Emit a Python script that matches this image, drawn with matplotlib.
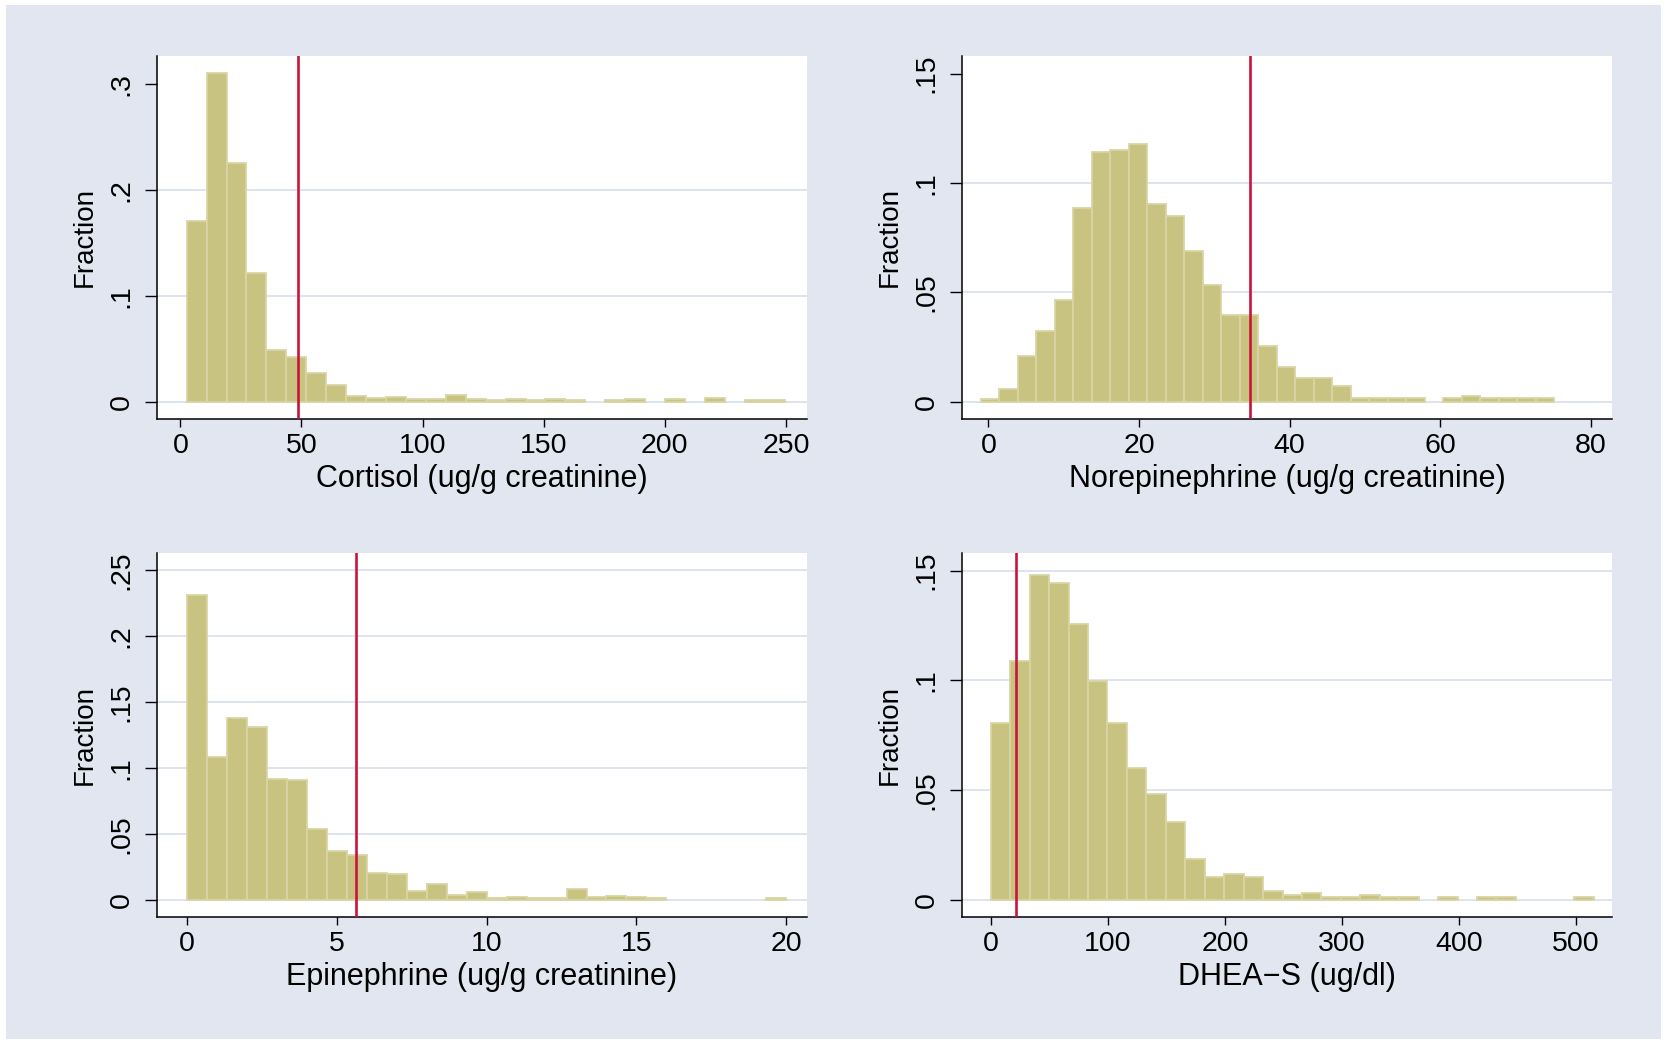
import numpy as np
import matplotlib
matplotlib.use("Agg")
import matplotlib.pyplot as plt
from matplotlib.patches import Rectangle

plt.rcParams['font.family'] = ['Liberation Sans', 'DejaVu Sans']

# ---------------- data ----------------
cort_start, cort_width = 2.6, 8.23
cort_frac = [0.171, 0.311, 0.2255, 0.1217, 0.0487, 0.0428, 0.0274, 0.016, 0.006, 0.0035,
             0.0045, 0.0027, 0.0027, 0.0062, 0.0027, 0.0018, 0.0027, 0.0018, 0.0027, 0.0018,
             0.0, 0.0018, 0.0027, 0.0, 0.0027, 0.0, 0.0038, 0.0, 0.0018, 0.0018]
cort_line = 48.5

nor_start, nor_width = -0.99, 2.455
nor_frac = [0.0013, 0.0059, 0.0208, 0.0325, 0.0464, 0.0884, 0.1141, 0.1152, 0.1179, 0.0906,
            0.0847, 0.0688, 0.0532, 0.0395, 0.0395, 0.0257, 0.0158, 0.0108, 0.0108, 0.0071,
            0.002, 0.002, 0.002, 0.002, 0.0, 0.0016, 0.0025, 0.0016, 0.0016, 0.0016, 0.0016]
nor_line = 34.8

epi_start, epi_width = 0.0, 0.6667
epi_frac = [0.2311, 0.1084, 0.1378, 0.1309, 0.0918, 0.091, 0.0536, 0.0369, 0.0341, 0.0202,
            0.0200, 0.0065, 0.0122, 0.0038, 0.0062, 0.0013, 0.0024, 0.0013, 0.0013, 0.0082,
            0.0024, 0.0034, 0.0024, 0.0014, 0.0, 0.0, 0.0, 0.0, 0.0, 0.0014]
epi_line = 5.64

dhea_start, dhea_width = 0.0, 16.61
dhea_frac = [0.0805, 0.1089, 0.1482, 0.1442, 0.1256, 0.0999, 0.0805, 0.0601, 0.0482, 0.0355,
             0.0188, 0.0107, 0.0119, 0.0107, 0.004, 0.0022, 0.0031, 0.0013, 0.0013, 0.0022,
             0.0013, 0.0013, 0.0, 0.0013, 0.0, 0.0013, 0.0013, 0.0, 0.0, 0.0, 0.0013]
dhea_line = 21.7

cort_xticks = [0, 50, 100, 150, 200, 250]
nor_xticks = [0, 20, 40, 60, 80]
epi_xticks = [0, 5, 10, 15, 20]
dhea_xticks = [0, 100, 200, 300, 400, 500]

cort_yticks = [0, 0.1, 0.2, 0.3]
cort_ylabels = ['0', '.1', '.2', '.3']
small_yticks = [0, 0.05, 0.1, 0.15]
small_ylabels = ['0', '.05', '.1', '.15']
epi_yticks = [0, 0.05, 0.1, 0.15, 0.2, 0.25]
epi_ylabels = ['0', '.05', '.1', '.15', '.2', '.25']

xlabels = ['Cortisol (ug/g creatinine)', 'Norepinephrine (ug/g creatinine)',
           'Epinephrine (ug/g creatinine)', 'DHEA\u2212S (ug/dl)']

# ---------------- style ----------------
BG = '#E1E6F0'
GRID = '#DDE3EF'
BAR = '#C9C381'
BAR_EDGE = '#D9D5A5'
RED = '#C8143C'

fig = plt.figure(figsize=(16.67, 10.43), dpi=100)
fig.patch.set_facecolor('white')
fig.patches.append(Rectangle((6 / 1667, 1 - 1039 / 1043), (1661 - 6) / 1667, (1039 - 5) / 1043,
                             transform=fig.transFigure, facecolor=BG, edgecolor='none', zorder=-10))

panels = [
    dict(pos=[0.0941, 0.5983, 0.3900, 0.3480], start=cort_start, width=cort_width, frac=cort_frac,
         line=cort_line, xticks=cort_xticks, yticks=cort_yticks, ylabels=cort_ylabels,
         xlim=(-9.7, 258.7), ylim=(-0.016, 0.3267), xlabel=xlabels[0], topgrid=False),
    dict(pos=[0.5771, 0.5983, 0.3899, 0.3480], start=nor_start, width=nor_width, frac=nor_frac,
         line=nor_line, xticks=nor_xticks, yticks=small_yticks, ylabels=small_ylabels,
         xlim=(-3.5, 82.8), ylim=(-0.0078, 0.158), xlabel=xlabels[1], topgrid=False),
    dict(pos=[0.0941, 0.1208, 0.3900, 0.3490], start=epi_start, width=epi_width, frac=epi_frac,
         line=epi_line, xticks=epi_xticks, yticks=epi_yticks, ylabels=epi_ylabels,
         xlim=(-1.0, 20.69), ylim=(-0.0129, 0.2632), xlabel=xlabels[2], topgrid=True),
    dict(pos=[0.5771, 0.1208, 0.3899, 0.3490], start=dhea_start, width=dhea_width, frac=dhea_frac,
         line=dhea_line, xticks=dhea_xticks, yticks=small_yticks, ylabels=small_ylabels,
         xlim=(-24.6, 530.6), ylim=(-0.0077, 0.158), xlabel=xlabels[3], topgrid=True),
]

for p in panels:
    ax = fig.add_axes(p['pos'])
    ax.set_facecolor('white')
    frac = np.array(p['frac'])
    left = p['start'] + p['width'] * np.arange(len(frac))
    keep = frac > 0
    ax.bar(left[keep], frac[keep], width=p['width'], align='edge', color=BAR,
           edgecolor=BAR_EDGE, linewidth=1.3, zorder=2)
    gy = p['yticks'] if p['topgrid'] else p['yticks'][:-1]
    for g in gy:
        ax.axhline(g, color=GRID, linewidth=1.4, zorder=1)
    ax.axvline(p['line'], color=RED, linewidth=1.9, zorder=3)
    ax.set_xlim(*p['xlim'])
    ax.set_ylim(*p['ylim'])
    ax.set_xticks(p['xticks'])
    ax.set_xticklabels([str(t) for t in p['xticks']])
    ax.set_yticks(p['yticks'])
    ax.set_yticklabels(p['ylabels'], rotation=90, va='center')
    for s in ['top', 'right']:
        ax.spines[s].set_visible(False)
    for s in ['left', 'bottom']:
        ax.spines[s].set_color('black')
        ax.spines[s].set_linewidth(1.1)
    ax.tick_params(axis='y', direction='out', length=8.5, width=1.0, pad=7.5, labelsize=20.5,
                   colors='black')
    ax.tick_params(axis='x', direction='out', length=5.5, width=1.0, pad=4.5, labelsize=20.5,
                   colors='black')
    ax.set_xlabel(p['xlabel'], fontsize=22, labelpad=4)
    ax.set_ylabel('Fraction', fontsize=20, labelpad=8)

fig.savefig('out.png', dpi=100, facecolor='white')
